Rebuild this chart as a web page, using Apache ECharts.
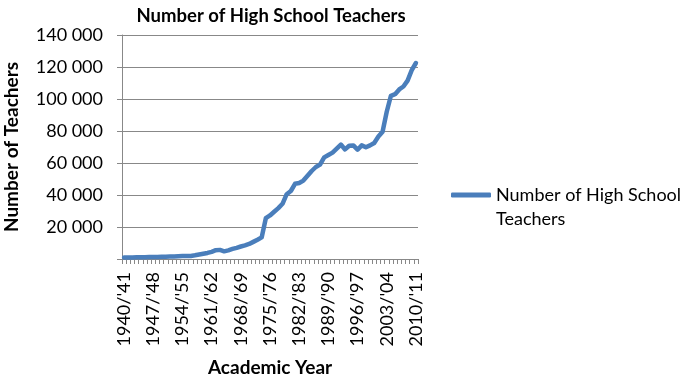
<!DOCTYPE html>
<html>
<head>
<meta charset="utf-8">
<script src="https://cdn.jsdelivr.net/npm/echarts@6/dist/echarts.min.js"></script>
<style>html,body{margin:0;padding:0;background:#fff;}#c{width:685px;height:379px;}</style>
</head>
<body>
<div id="c"></div>
<script>
// Academic years 1940/'41 ... 2010/'11
const startYear = 1940;
const endYear = 2010;
const categories = [];
for (let y = startYear; y <= endYear; y++) {
  categories.push(y + "/'" + String((y + 1) % 100).padStart(2, '0'));
}
const teachers = [
  900, 950, 1000, 1050, 1100, 1150, 1200, 1250, 1300, 1350,
  1450, 1500, 1600, 1700, 1800, 1850, 1900, 2300, 2800, 3300,
  3800, 4500, 5500, 5700, 4800, 5400, 6300, 7000, 7800, 8500,
  9400, 10700, 12000, 13500, 25500, 27200, 29500, 31800, 34500, 40500,
  42500, 47000, 47500, 49000, 52000, 55000, 57500, 59000, 63500, 65000,
  66500, 69000, 71500, 68500, 70800, 71000, 68300, 71000, 69800, 71000,
  72500, 76500, 79500, 92000, 102000, 103000, 106000, 107800, 111500, 118000,
  122500
];
const seriesName = 'Number of High School Teachers';
const yTicks = [0, 20000, 40000, 60000, 80000, 100000, 120000, 140000];

const font = "Lato, 'Open Sans', sans-serif";
const chart = echarts.init(document.getElementById('c'));
chart.setOption({
  animation: false,
  title: {
    text: 'Number of High School Teachers',
    left: 266, top: 2, textAlign: 'center',
    textStyle: { fontFamily: font, fontWeight: 'bold', fontSize: 18.5, color: '#000' }
  },
  legend: {
    left: 451, top: 159, orient: 'vertical',
    itemWidth: 40, itemHeight: 5,
    icon: 'roundRect',
    itemGap: 0,
    padding: 0,
    formatter: () => ' \nNumber of High School\nTeachers',
    textStyle: { fontFamily: font, fontSize: 18, color: '#000', lineHeight: 24, width: 200, overflow: 'none' },
    data: [seriesName]
  },
  grid: { left: 122, right: 267, top: 35, bottom: 120, containLabel: false, outerBoundsMode: 'none' },
  xAxis: {
    type: 'category',
    data: categories,
    boundaryGap: true,
    name: 'Academic Year',
    nameLocation: 'middle',
    nameGap: 99,
    nameTextStyle: { fontFamily: font, fontWeight: 'bold', fontSize: 19, color: '#000' },
    axisLine: { lineStyle: { color: '#888', width: 1 } },
    axisTick: { show: true, interval: 0, length: 5, lineStyle: { color: '#888' } },
    axisLabel: {
      interval: 6, rotate: 90, margin: 13,
      fontFamily: font, fontSize: 18, color: '#000'
    }
  },
  yAxis: {
    type: 'value',
    min: yTicks[0], max: yTicks[yTicks.length - 1], interval: 20000,
    name: 'Number of Teachers',
    nameLocation: 'middle',
    nameGap: 101,
    nameRotate: 90,
    nameTextStyle: { fontFamily: font, fontWeight: 'bold', fontSize: 19, color: '#000' },
    axisLine: { show: true, lineStyle: { color: '#888', width: 1 } },
    axisTick: { show: true, inside: false, length: 5, lineStyle: { color: '#888' } },
    splitLine: { lineStyle: { color: '#888', width: 1 } },
    axisLabel: {
      margin: 19, fontFamily: font, fontSize: 18, color: '#000',
      formatter: v => v === 0 ? '' : String(v).replace(/\B(?=(\d{3})+(?!\d))/g, ' ')
    }
  },
  series: [{
    name: seriesName,
    type: 'line',
    data: teachers,
    showSymbol: false,
    symbol: 'none',
    itemStyle: { color: '#4A7EBB' },
    lineStyle: { color: '#4A7EBB', width: 4.5, join: 'round', cap: 'round' }
  }]
});
</script>
</body>
</html>
